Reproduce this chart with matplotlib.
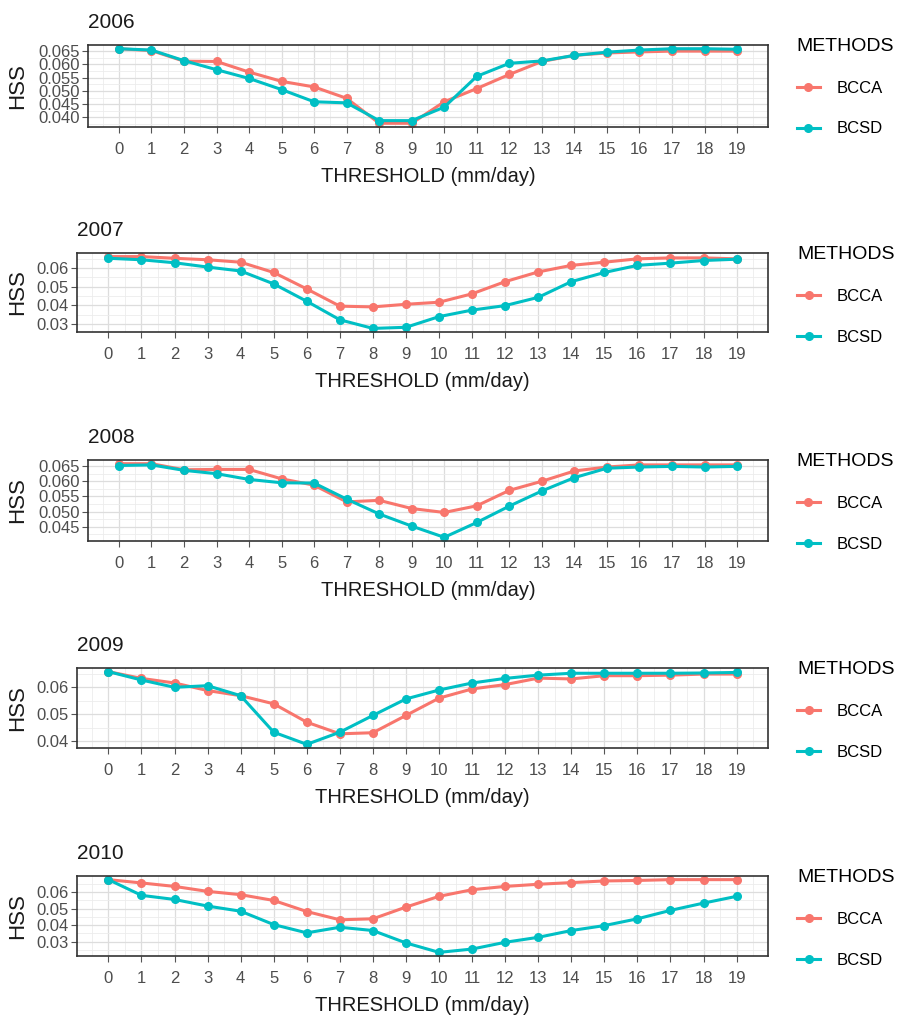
import numpy as np
import matplotlib
matplotlib.use("Agg")
import matplotlib.pyplot as plt
from matplotlib.ticker import MultipleLocator, FormatStrFormatter

plt.rcParams['font.family'] = ['Liberation Sans', 'DejaVu Sans']

threshold = list(range(20))
years = ['2006', '2007', '2008', '2009', '2010']

bcca = {
    '2006': [0.0659, 0.0652, 0.0612, 0.0611, 0.0571, 0.0536, 0.0515, 0.0472, 0.0378, 0.0378,
             0.0459, 0.0509, 0.0562, 0.0611, 0.0634, 0.0643, 0.0647, 0.0650, 0.0650, 0.0650],
    '2007': [0.0661, 0.0661, 0.0652, 0.0644, 0.0631, 0.0576, 0.0488, 0.0396, 0.0392, 0.0406,
             0.0417, 0.0462, 0.0527, 0.0579, 0.0614, 0.0631, 0.0649, 0.0654, 0.0654, 0.0649],
    '2008': [0.0658, 0.0658, 0.0638, 0.0639, 0.0639, 0.0608, 0.0587, 0.0532, 0.0537, 0.0510,
             0.0497, 0.0519, 0.0570, 0.0600, 0.0634, 0.0647, 0.0654, 0.0654, 0.0654, 0.0654],
    '2009': [0.0658, 0.0633, 0.0616, 0.0588, 0.0569, 0.0539, 0.0471, 0.0428, 0.0432, 0.0496,
             0.0560, 0.0594, 0.0610, 0.0634, 0.0631, 0.0643, 0.0643, 0.0645, 0.0649, 0.0649],
    '2010': [0.0675, 0.0655, 0.0634, 0.0604, 0.0584, 0.0549, 0.0482, 0.0432, 0.0438, 0.0509,
             0.0574, 0.0614, 0.0634, 0.0647, 0.0657, 0.0667, 0.0670, 0.0675, 0.0675, 0.0675],
}
bcsd = {
    '2006': [0.0659, 0.0654, 0.0614, 0.0580, 0.0547, 0.0505, 0.0459, 0.0455, 0.0388, 0.0388,
             0.0439, 0.0555, 0.0604, 0.0613, 0.0634, 0.0646, 0.0654, 0.0659, 0.0659, 0.0657],
    '2007': [0.0652, 0.0644, 0.0628, 0.0605, 0.0584, 0.0515, 0.0422, 0.0323, 0.0277, 0.0283,
             0.0340, 0.0375, 0.0399, 0.0443, 0.0527, 0.0576, 0.0614, 0.0626, 0.0640, 0.0647],
    '2008': [0.0652, 0.0654, 0.0636, 0.0625, 0.0606, 0.0595, 0.0594, 0.0541, 0.0492, 0.0452,
             0.0415, 0.0464, 0.0518, 0.0568, 0.0612, 0.0643, 0.0647, 0.0649, 0.0647, 0.0649],
    '2009': [0.0658, 0.0627, 0.0600, 0.0606, 0.0569, 0.0434, 0.0389, 0.0434, 0.0496, 0.0557,
             0.0590, 0.0616, 0.0633, 0.0645, 0.0652, 0.0652, 0.0652, 0.0652, 0.0653, 0.0655],
    '2010': [0.0675, 0.0580, 0.0555, 0.0515, 0.0484, 0.0403, 0.0353, 0.0387, 0.0367, 0.0292,
             0.0235, 0.0255, 0.0296, 0.0326, 0.0367, 0.0397, 0.0438, 0.0489, 0.0533, 0.0574],
}

# y tick step per panel
ystep = {'2006': 0.005, '2007': 0.01, '2008': 0.005, '2009': 0.01, '2010': 0.01}
yfmt = {'2006': '%.3f', '2007': '%.2f', '2008': '%.3f', '2009': '%.2f', '2010': '%.2f'}

W, H = 902, 1021
# axes boxes in pixels: left, top, right, bottom
boxes = {'2006': (88, 45, 768, 127),
         '2007': (77, 253, 768, 332),
         '2008': (88, 460, 768, 541),
         '2009': (77, 668, 768, 748),
         '2010': (77, 876, 768, 956)}

red = '#F8766D'
teal = '#00BFC4'

fig = plt.figure(figsize=(W / 100, H / 100), dpi=100)

for yr in years:
    l, t, r, b = boxes[yr]
    ax = fig.add_axes([l / W, 1 - b / H, (r - l) / W, (b - t) / H])
    ax.plot(threshold, bcca[yr], color=red, lw=2.2, marker='o', ms=5.5, label='BCCA')
    ax.plot(threshold, bcsd[yr], color=teal, lw=2.2, marker='o', ms=5.5, label='BCSD')
    ax.margins(x=0.05, y=0.05)
    ax.set_xticks(threshold)
    ax.xaxis.set_minor_locator(MultipleLocator(0.5))
    ax.yaxis.set_major_locator(MultipleLocator(ystep[yr]))
    ax.yaxis.set_minor_locator(MultipleLocator(ystep[yr] / 2))
    ax.yaxis.set_major_formatter(FormatStrFormatter(yfmt[yr]))
    ax.grid(which='major', color='#DDDDDD', lw=0.9)
    ax.grid(which='minor', color='#ECECEC', lw=0.6)
    ax.set_axisbelow(True)
    ax.tick_params(axis='x', which='major', length=4, color='#555555', labelsize=12,
                   labelcolor='#4D4D4D', pad=7)
    ax.tick_params(axis='y', which='major', length=4, color='#555555', labelsize=12,
                   labelcolor='#4D4D4D', pad=2)
    ax.tick_params(which='minor', length=0)
    for s in ax.spines.values():
        s.set_color('#333333')
        s.set_linewidth(1.2)
    ax.set_xlabel('THRESHOLD (mm/day)', fontsize=14.5, color='#1A1A1A', labelpad=7)
    ax.set_ylabel('HSS', fontsize=16, color='#1A1A1A')
    ax.yaxis.set_label_coords((28 - l) / (r - l), 0.5)
    ax.set_title(yr, loc='left', fontsize=15, color='#1A1A1A', pad=12)
    leg = ax.legend(loc='upper left', bbox_to_anchor=(1.025, 1.23), frameon=False,
                    title='METHODS', fontsize=12, title_fontsize=14,
                    handlelength=1.4, handletextpad=1.0, labelspacing=1.55,
                    borderpad=0.2)
    leg._legend_box.align = 'left'

fig.savefig('out.png', dpi=100)
